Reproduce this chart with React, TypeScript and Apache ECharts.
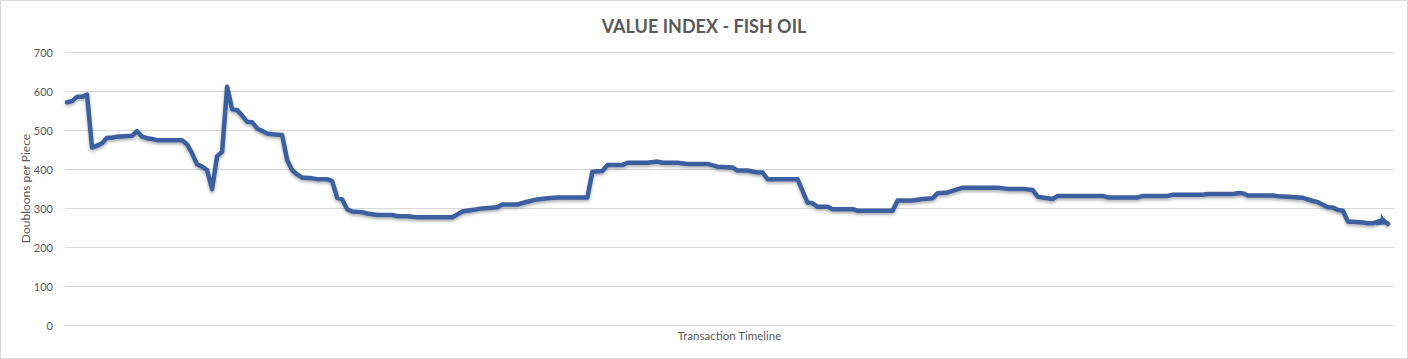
import React, { useEffect, useRef } from "react";
import * as echarts from "echarts";

const chartTitle = "VALUE INDEX - FISH OIL";
const yAxisName = "Doubloons per Piece";
const xAxisName = "Transaction Timeline";
const yTicks = [0, 100, 200, 300, 400, 500, 600, 700];

// transaction index (position along the timeline) of each turning point
const transactionIndex = [
  0, 1, 2, 3, 4, 5, 6, 7, 8, 9, 10, 13, 14, 15, 16, 17, 18, 23, 24, 25,
  26, 27, 28, 29, 30, 31, 32, 33, 34, 35, 36, 37, 38, 40, 41, 43, 44, 45, 46, 47,
  49, 50, 52, 53, 54, 55, 56, 57, 59, 60, 62, 65, 66, 68, 70, 77, 79, 81, 83, 86,
  87, 90, 92, 94, 96, 98, 104, 105, 107, 108, 111, 112, 116, 118, 119, 122, 124, 128, 130, 133,
  134, 136, 138, 139, 140, 146, 148, 149, 150, 152, 153, 157, 158, 165, 166, 169, 171, 173, 174, 176,
  179, 186, 188, 191, 193, 194, 195, 197, 198, 207, 208, 214, 215, 220, 221, 227, 228, 233, 234, 235,
  236, 241, 242, 244, 246, 247, 249, 250, 251, 252, 253, 254, 255, 256, 257, 259, 260, 261, 263, 264,
];

// price in doubloons per piece at each turning point
const pricePerPiece = [
  571, 574, 585, 585, 591, 455, 460, 466, 480, 480, 483, 485, 497, 483, 479, 477, 474, 474, 463, 440,
  412, 406, 397, 348, 433, 444, 611, 553, 551, 537, 521, 520, 504, 491, 489, 487, 423, 397, 386, 378,
  376, 374, 374, 369, 326, 322, 297, 291, 289, 286, 282, 282, 279, 279, 276, 276, 291, 295, 299, 302,
  309, 309, 316, 322, 325, 327, 327, 393, 395, 410, 410, 416, 416, 419, 416, 416, 413, 413, 406, 404,
  396, 396, 391, 391, 374, 374, 314, 312, 303, 303, 297, 297, 293, 293, 319, 319, 323, 325, 338, 340,
  352, 352, 349, 349, 346, 329, 327, 323, 331, 331, 327, 327, 331, 331, 334, 334, 336, 336, 338, 338,
  332, 332, 330, 329, 327, 326, 318, 315, 308, 302, 301, 295, 293, 265, 265, 263, 261, 261, 269, 259,
];

export default function App() {
  const ref = useRef<HTMLDivElement>(null);

  useEffect(() => {
    document.body.style.margin = "0";
    if (!ref.current) return;
    const chart = echarts.init(ref.current, null, { renderer: "svg" });
    const font = 'Lato, "Open Sans", "Liberation Sans", sans-serif';
    const n = transactionIndex.length;
    const data = transactionIndex.map((x, i) =>
      i === n - 1
        ? {
            value: [x, pricePerPiece[i]],
            symbol: "arrow",
            symbolSize: [10, 11],
            symbolRotate: -115,
            itemStyle: { color: "#3A5E9F" },
          }
        : { value: [x, pricePerPiece[i]] }
    );
    chart.setOption({
      animation: false,
      backgroundColor: "#ffffff",
      title: {
        text: chartTitle,
        left: "center",
        top: 12,
        textStyle: {
          fontFamily: font,
          fontSize: 18,
          fontWeight: "bold",
          color: "#595959",
        },
      },
      graphic: [
        {
          type: "rect",
          shape: { x: 0.5, y: 0.5, width: 1407, height: 358 },
          style: { fill: "none", stroke: "#d9d9d9", lineWidth: 1 },
          silent: true,
        },
      ],
      grid: { left: 65, right: 14, top: 52, bottom: 34, containLabel: false },
      xAxis: {
        type: "value",
        min: -0.4,
        max: 265.2,
        name: xAxisName,
        nameLocation: "middle",
        nameGap: 4,
        nameMoveOverlap: false,
        nameTextStyle: { fontFamily: font, fontSize: 11.5, color: "#595959", verticalAlign: "top" },
        axisLine: { show: true, lineStyle: { color: "#d9d9d9", width: 1 } },
        axisTick: { show: false },
        axisLabel: { show: false },
        splitLine: { show: false },
      },
      yAxis: {
        type: "value",
        min: yTicks[0],
        max: yTicks[yTicks.length - 1],
        interval: 100,
        name: yAxisName,
        nameLocation: "middle",
        nameRotate: 90,
        nameGap: 34,
        nameMoveOverlap: false,
        nameTextStyle: { fontFamily: font, fontSize: 12, color: "#595959" },
        axisLine: { show: false },
        axisTick: { show: false },
        axisLabel: { fontFamily: font, fontSize: 11, color: "#595959", margin: 12 },
        splitLine: { lineStyle: { color: "#d9d9d9", width: 1 } },
      },
      series: [
        {
          type: "line",
          data,
          showSymbol: true,
          symbol: "none",
          lineStyle: {
            color: "#3A5E9F",
            width: 4.5,
            join: "round",
            cap: "round",
            shadowColor: "rgba(0,0,0,0.3)",
            shadowBlur: 3,
            shadowOffsetY: 2,
          },
          itemStyle: { color: "#3A5E9F" },
        },
      ],
    });
    return () => chart.dispose();
  }, []);

  return <div ref={ref} style={{ width: 1408, height: 359 }} />;
}
